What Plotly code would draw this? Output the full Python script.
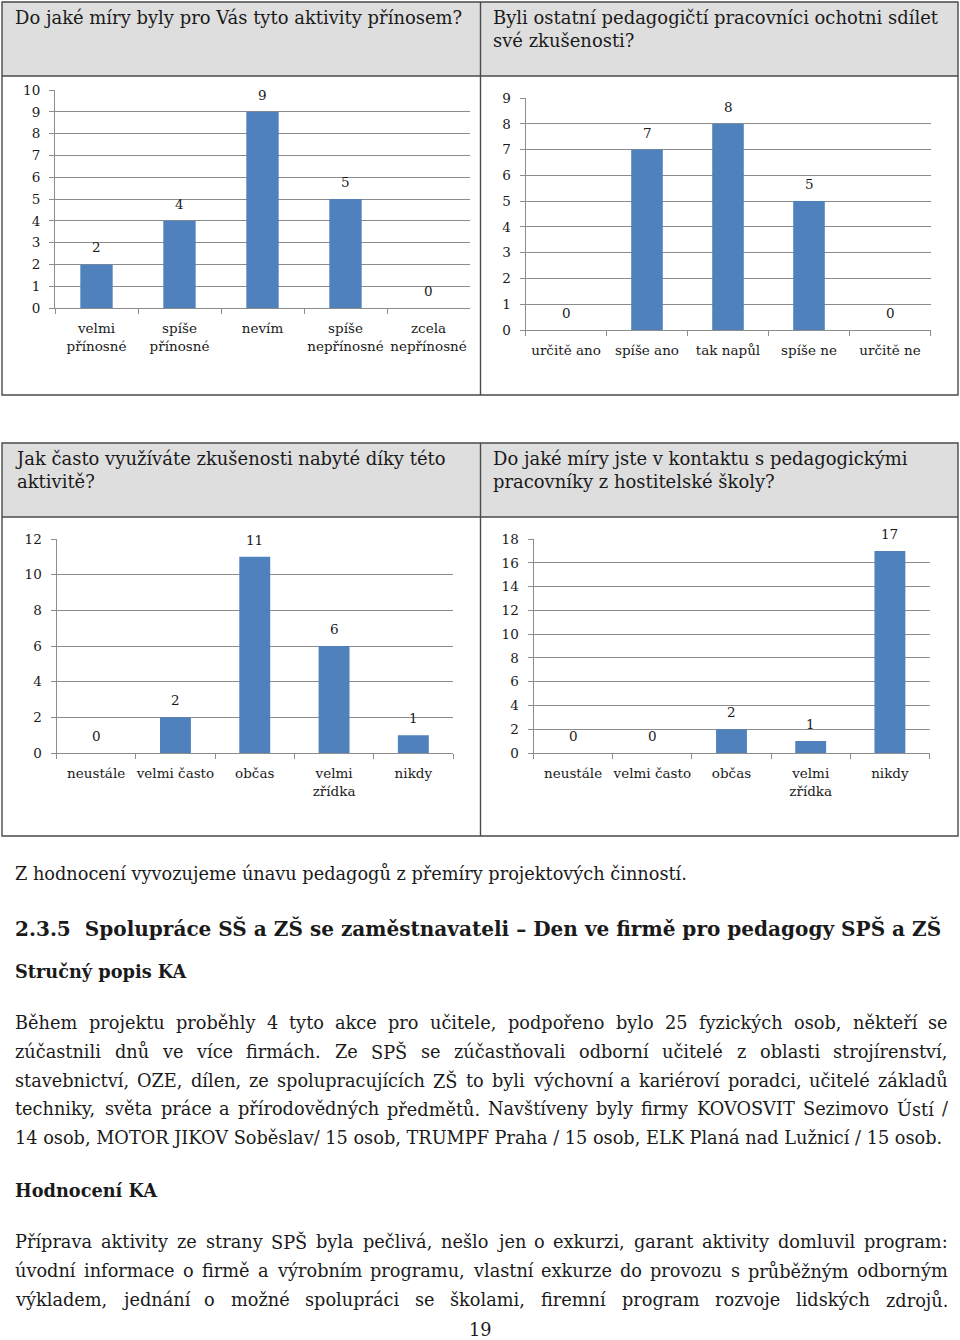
import glob
import struct
import plotly.graph_objects as go

W, H = 960, 1340

# ---------------- data ----------------
q1_title = "Do jaké míry byly pro Vás tyto aktivity přínosem?"
q1_cats = ["velmi<br>přínosné", "spíše<br>přínosné", "nevím", "spíše<br>nepřínosné", "zcela<br>nepřínosné"]
q1_vals = [2, 4, 9, 5, 0]
q1_ticks = [0, 1, 2, 3, 4, 5, 6, 7, 8, 9, 10]

q2_title = "Byli ostatní pedagogičtí pracovníci ochotni sdílet<br>své zkušenosti?"
q2_cats = ["určitě ano", "spíše ano", "tak napůl", "spíše ne", "určitě ne"]
q2_vals = [0, 7, 8, 5, 0]
q2_ticks = [0, 1, 2, 3, 4, 5, 6, 7, 8, 9]

q3_title = "Jak často využíváte zkušenosti nabyté díky této<br>aktivitě?"
q3_cats = ["neustále", "velmi často", "občas", "velmi<br>zřídka", "nikdy"]
q3_vals = [0, 2, 11, 6, 1]
q3_ticks = [0, 2, 4, 6, 8, 10, 12]

q4_title = "Do jaké míry jste v kontaktu s pedagogickými<br>pracovníky z hostitelské školy?"
q4_cats = ["neustále", "velmi často", "občas", "velmi<br>zřídka", "nikdy"]
q4_vals = [0, 0, 2, 1, 17]
q4_ticks = [0, 2, 4, 6, 8, 10, 12, 14, 16, 18]

conclusion = "Z hodnocení vyvozujeme únavu pedagogů z přemíry projektových činností."
heading = "2.3.5  Spolupráce SŠ a ZŠ se zaměstnavateli – Den ve firmě pro pedagogy SPŠ a ZŠ"
sub1 = "Stručný popis KA"
para1 = [
    "Během projektu proběhly 4 tyto akce pro učitele, podpořeno bylo 25 fyzických osob, někteří se",
    "zúčastnili dnů ve více firmách. Ze SPŠ se zúčastňovali odborní učitelé z oblasti strojírenství,",
    "stavebnictví, OZE, dílen, ze spolupracujících ZŠ to byli výchovní a kariéroví poradci, učitelé základů",
    "techniky, světa práce a přírodovědných předmětů. Navštíveny byly firmy KOVOSVIT Sezimovo Ústí /",
    "14 osob, MOTOR JIKOV Soběslav/ 15 osob, TRUMPF Praha / 15 osob, ELK Planá nad Lužnicí / 15 osob.",
]
para1_justified = [True, True, True, True, False]
sub2 = "Hodnocení KA"
para2 = [
    "Příprava aktivity ze strany SPŠ byla pečlivá, nešlo jen o exkurzi, garant aktivity domluvil program:",
    "úvodní informace o firmě a výrobním programu, vlastní exkurze do provozu s průběžným odborným",
    "výkladem, jednání o možné spolupráci se školami, firemní program rozvoje lidských zdrojů.",
]
para2_justified = [True, True, True]
page_no = "19"

# ---------------- style ----------------
SERIF = "DejaVu Serif"
BAR = "#4f81bd"
GRID = "#8c8c8c"
BORDER = "#4a4a4a"
HEADFILL = "#dedede"
TXT = "#1a1a1a"
LEFT, RIGHT = 13, 946


# ---------- font advance widths (for justified text layout) ----------
def load_metrics(name):
    paths = glob.glob("/usr/share/fonts/**/" + name, recursive=True)
    if not paths:
        return None
    with open(paths[0], "rb") as f:
        data = f.read()
    n = struct.unpack(">H", data[4:6])[0]
    tables = {}
    for i in range(n):
        tag, _, off, ln = struct.unpack(">4sIII", data[12 + 16 * i:28 + 16 * i])
        tables[tag.decode("latin1")] = off
    head = tables["head"]
    upem = struct.unpack(">H", data[head + 18:head + 20])[0]
    hhea = tables["hhea"]
    nhm = struct.unpack(">H", data[hhea + 34:hhea + 36])[0]
    hm = tables["hmtx"]
    adv = [struct.unpack(">H", data[hm + 4 * i:hm + 4 * i + 2])[0] for i in range(nhm)]
    cm = tables["cmap"]
    nsub = struct.unpack(">H", data[cm + 2:cm + 4])[0]
    cmap = {}
    for i in range(nsub):
        pid, eid, off = struct.unpack(">HHI", data[cm + 4 + 8 * i:cm + 12 + 8 * i])
        st = cm + off
        fmt = struct.unpack(">H", data[st:st + 2])[0]
        if fmt != 4:
            continue
        segx2 = struct.unpack(">H", data[st + 6:st + 8])[0]
        seg = segx2 // 2
        ends = struct.unpack(">%dH" % seg, data[st + 14:st + 14 + segx2])
        starts = struct.unpack(">%dH" % seg, data[st + 16 + segx2:st + 16 + 2 * segx2])
        deltas = struct.unpack(">%dh" % seg, data[st + 16 + 2 * segx2:st + 16 + 3 * segx2])
        rpos = st + 16 + 3 * segx2
        roffs = struct.unpack(">%dH" % seg, data[rpos:rpos + segx2])
        for s in range(seg):
            for c in range(starts[s], ends[s] + 1):
                if c == 0xFFFF:
                    continue
                if roffs[s] == 0:
                    g = (c + deltas[s]) & 0xFFFF
                else:
                    a = rpos + 2 * s + roffs[s] + 2 * (c - starts[s])
                    g = struct.unpack(">H", data[a:a + 2])[0]
                    if g:
                        g = (g + deltas[s]) & 0xFFFF
                cmap[c] = g
        break

    def width(text, size):
        tot = 0
        for ch in text:
            g = cmap.get(ord(ch), 0)
            tot += adv[g] if g < nhm else adv[-1]
        return tot * size / upem
    return width


try:
    w_reg = load_metrics("DejaVuSerif.ttf")
except Exception:
    w_reg = None
try:
    w_bold = load_metrics("DejaVuSerif-Bold.ttf")
except Exception:
    w_bold = None
if w_reg is None:
    w_reg = lambda t, s: len(t) * 0.56 * s
if w_bold is None:
    w_bold = lambda t, s: len(t) * 0.62 * s

BODY = 929.0 / w_reg(para1[4], 1.0)
HEAD_SIZE = 929.0 / w_bold(heading, 1.0)
TITLE_SIZE = 449.0 / w_reg(q1_title, 1.0)
BODY = max(15.5, min(BODY, 19.0))
HEAD_SIZE = max(17.0, min(HEAD_SIZE, 23.0))
TITLE_SIZE = max(15.5, min(TITLE_SIZE, 19.0))
CH = 13.5


def px(x):
    return x / W


def py(y):
    return 1 - y / H


fig = go.Figure()

charts = [
    (q1_cats, q1_vals, q1_ticks, 55, 470, 308, 90, 10, ""),
    (q2_cats, q2_vals, q2_ticks, 525.5, 930.5, 330, 98, 9, "2"),
    (q3_cats, q3_vals, q3_ticks, 56.5, 453, 753, 539, 12, "3"),
    (q4_cats, q4_vals, q4_ticks, 533.5, 929.5, 753, 539, 18, "4"),
]

annotations = []
layout_axes = {}
for cats, vals, ticks, x0, x1, yz, yt, ymax, s in charts:
    xa = "x" + s
    ya = "y" + s
    fig.add_trace(go.Bar(
        x=cats, y=vals, xaxis=xa, yaxis=ya,
        marker=dict(color=BAR, line=dict(width=0)),
        width=0.39, showlegend=False, hoverinfo="x+y",
    ))
    for c, v in zip(cats, vals):
        annotations.append(dict(
            x=c, y=v, xref=xa, yref=ya, text=str(v), showarrow=False,
            yanchor="middle", yshift=17,
            font=dict(family=SERIF, size=CH, color=TXT),
        ))
    layout_axes["xaxis" + s] = dict(
        domain=[px(x0), px(x1)], anchor=ya, type="category",
        range=[-0.5, len(cats) - 0.5], tickangle=0, automargin=False,
        showline=True, linecolor=GRID, linewidth=1,
        ticks="outside", tickson="boundaries", ticklen=5, tickcolor=GRID,
        showgrid=False, tickfont=dict(family=SERIF, size=CH, color=TXT),
        ticklabelstandoff=8, fixedrange=True,
    )
    layout_axes["yaxis" + s] = dict(
        domain=[py(yz), py(yt)], anchor=xa, range=[0, ymax], automargin=False,
        tickvals=ticks, showline=True, linecolor=GRID, linewidth=1,
        ticks="outside", ticklen=5, tickcolor=GRID,
        showgrid=True, gridcolor=GRID, gridwidth=1, zeroline=False,
        tickfont=dict(family=SERIF, size=CH, color=TXT),
        ticklabelstandoff=6, fixedrange=True,
    )

# ---------------- table frames ----------------
shapes = []
for top, hb, bot in [(2, 76, 395), (443, 517, 836)]:
    shapes.append(dict(type="rect", xref="paper", yref="paper",
                       x0=px(2), x1=px(958), y0=py(hb), y1=py(top),
                       fillcolor=HEADFILL, line=dict(width=0), layer="below"))
    shapes.append(dict(type="rect", xref="paper", yref="paper",
                       x0=px(2), x1=px(958), y0=py(bot), y1=py(top),
                       fillcolor="rgba(0,0,0,0)", line=dict(color=BORDER, width=1.4)))
    shapes.append(dict(type="line", xref="paper", yref="paper",
                       x0=px(2), x1=px(958), y0=py(hb), y1=py(hb),
                       line=dict(color=BORDER, width=1.4)))
    shapes.append(dict(type="line", xref="paper", yref="paper",
                       x0=px(480.5), x1=px(480.5), y0=py(bot), y1=py(top),
                       line=dict(color=BORDER, width=1.4)))

for t, x, y in [(q1_title, 13, 5), (q2_title, 491, 5), (q3_title, 13, 446), (q4_title, 491, 446)]:
    annotations.append(dict(
        x=px(x), y=py(y), xref="paper", yref="paper", text=t, showarrow=False,
        xanchor="left", yanchor="top", align="left",
        font=dict(family=SERIF, size=TITLE_SIZE, color=TXT),
    ))


def text_line(txt, x, ycen, size, bold=False, anchor="left"):
    annotations.append(dict(
        x=px(x), y=py(ycen), xref="paper", yref="paper",
        text=("<b>%s</b>" % txt) if bold else txt, showarrow=False,
        xanchor=anchor, yanchor="middle", align="left",
        font=dict(family=SERIF, size=size, color=TXT),
    ))


def justified_line(txt, ycen, size):
    words = txt.split(" ")
    widths = [w_reg(wd, size) for wd in words]
    gap = (RIGHT - LEFT - sum(widths)) / max(1, len(words) - 1)
    x = LEFT
    for wd, wdw in zip(words, widths):
        text_line(wd, x, ycen, size)
        x += wdw + gap


text_line(conclusion, LEFT, 873, BODY)
text_line(heading, LEFT, 928, HEAD_SIZE, bold=True)
text_line(sub1, LEFT, 971, BODY, bold=True)
for i, (ln, j) in enumerate(zip(para1, para1_justified)):
    if j:
        justified_line(ln, 1023 + i * 28.75, BODY)
    else:
        text_line(ln, LEFT, 1023 + i * 28.75, BODY)
text_line(sub2, LEFT, 1190, BODY, bold=True)
for i, (ln, j) in enumerate(zip(para2, para2_justified)):
    if j:
        justified_line(ln, 1242 + i * 29, BODY)
    else:
        text_line(ln, LEFT, 1242 + i * 29, BODY)
text_line(page_no, 480, 1330, BODY, anchor="center")

fig.update_layout(
    width=W, height=H, margin=dict(l=0, r=0, t=0, b=0, pad=0, autoexpand=False),
    paper_bgcolor="white", plot_bgcolor="rgba(0,0,0,0)",
    bargap=0.6, showlegend=False,
    shapes=shapes, annotations=annotations,
    **layout_axes,
)

PAGE_FIX = (
    "var d=document.documentElement,b=document.body;"
    "[d,b].forEach(function(e){e.style.margin='0';e.style.padding='0';"
    "e.style.overflow='hidden';e.style.height='1340px';e.style.width='960px';});"
    "var g=document.querySelector('.plotly-graph-div');"
    "if(g&&g.parentElement){g.parentElement.style.margin='0';g.parentElement.style.padding='0';"
    "g.parentElement.style.height='1340px';g.parentElement.style.overflow='hidden';}"
    "window.scrollTo(0,0);"
)

fig.write_html(
    "out.html",
    config={"displayModeBar": False, "responsive": False},
    post_script=PAGE_FIX,
)
